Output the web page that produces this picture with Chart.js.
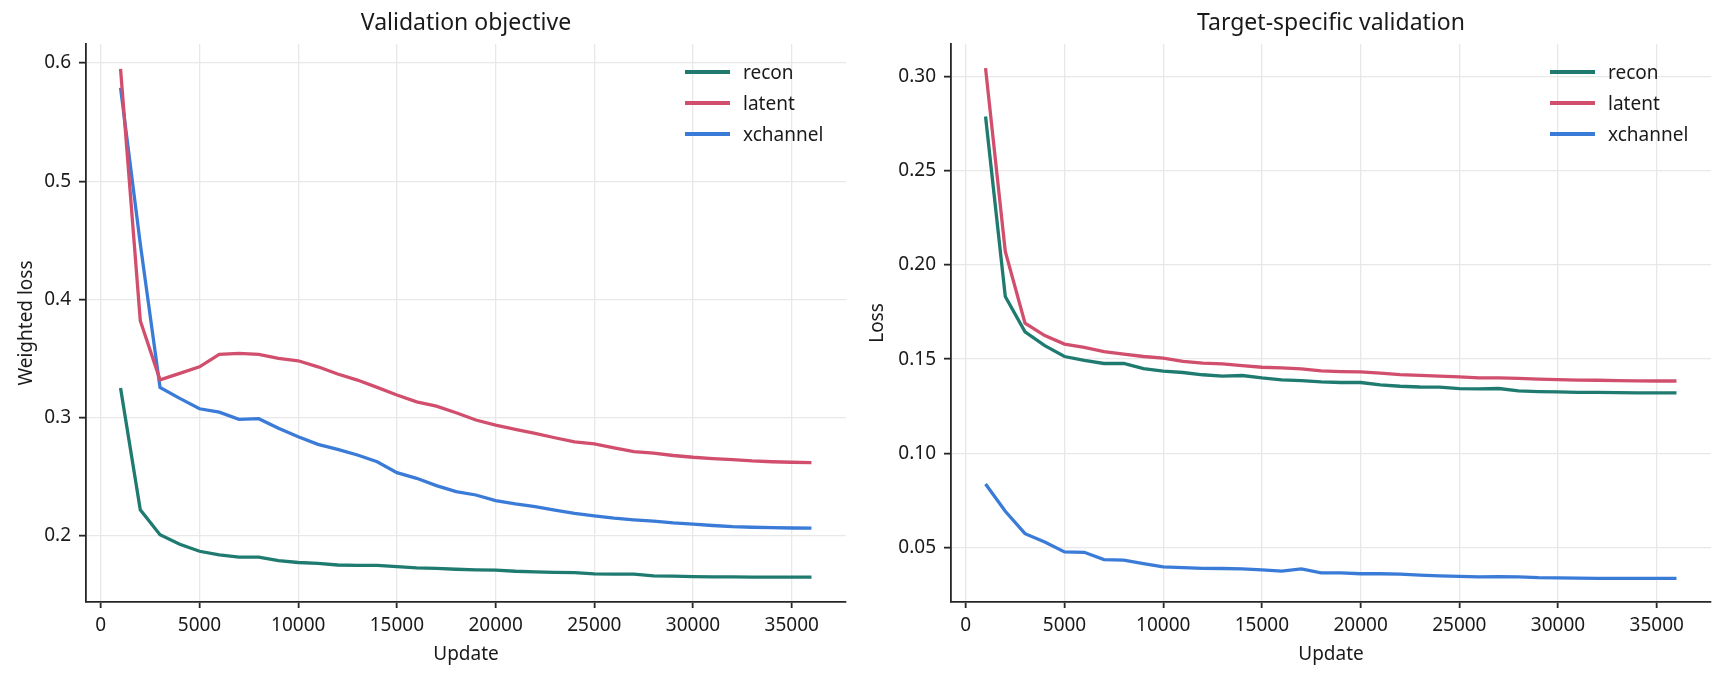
<!DOCTYPE html>
<html>
<head>
<meta charset="utf-8">
<script src="https://cdn.jsdelivr.net/npm/chart.js@4.4.1/dist/chart.umd.min.js"></script>
<style>
  html, body { margin: 0; padding: 0; background: #fff; }
  body { width: 1725px; height: 681px; position: relative; overflow: hidden; font-family: "Noto Sans", sans-serif; }
  .panel { position: absolute; top: 0; height: 681px; }
  .legend { position: absolute; font-size: 19px; color: #1a1a1a; }
  .legend .row { display: flex; align-items: center; height: 31px; }
  .legend .swatch { width: 45px; height: 3.3px; margin-right: 13px; }
</style>
</head>
<body>
<div class="panel" id="p1" style="left:0;width:862px;"><canvas id="objChart"></canvas></div>
<div class="panel" id="p2" style="left:862px;width:863px;"><canvas id="tgtChart"></canvas></div>
<script>
// validation curves, one value every 1000 updates
const updates = [1000, 2000, 3000, 4000, 5000, 6000, 7000, 8000, 9000, 10000, 11000, 12000,
  13000, 14000, 15000, 16000, 17000, 18000, 19000, 20000, 21000, 22000, 23000, 24000,
  25000, 26000, 27000, 28000, 29000, 30000, 31000, 32000, 33000, 34000, 35000, 36000];
const updateTicks = [0, 5000, 10000, 15000, 20000, 25000, 30000, 35000];

const objRecon = [0.325, 0.222, 0.201, 0.193, 0.187, 0.184, 0.182, 0.182, 0.179, 0.1775, 0.1767, 0.1754,
  0.175, 0.1751, 0.174, 0.1729, 0.1725, 0.1718, 0.1713, 0.1711, 0.1701, 0.1696, 0.1692, 0.169,
  0.1679, 0.1676, 0.1676, 0.1662, 0.1659, 0.1655, 0.1654, 0.1653, 0.1652, 0.1652, 0.1651, 0.1651];
const objLatent = [0.595, 0.382, 0.332, 0.3375, 0.343, 0.3535, 0.3543, 0.3535, 0.3502, 0.3481, 0.343, 0.3369,
  0.3318, 0.3256, 0.3191, 0.3134, 0.3098, 0.3041, 0.298, 0.2937, 0.2901, 0.2867, 0.283, 0.2796,
  0.2779, 0.2745, 0.2713, 0.27, 0.268, 0.2665, 0.2654, 0.2645, 0.2634, 0.2627, 0.2623, 0.262];
const objXchannel = [0.579, 0.447, 0.3256, 0.3163, 0.3075, 0.3047, 0.2986, 0.2991, 0.291, 0.2839, 0.2774, 0.2732,
  0.2684, 0.2627, 0.2535, 0.2487, 0.2425, 0.2374, 0.2346, 0.2298, 0.227, 0.2247, 0.2219, 0.2191,
  0.2169, 0.215, 0.2136, 0.2125, 0.211, 0.2099, 0.2088, 0.2078, 0.2073, 0.207, 0.2067, 0.2066];

const tgtRecon = [0.2789, 0.1833, 0.1645, 0.1572, 0.1514, 0.1493, 0.1477, 0.1477, 0.145, 0.1436, 0.1429, 0.1417,
  0.141, 0.1413, 0.14, 0.139, 0.1386, 0.1379, 0.1376, 0.1376, 0.1363, 0.1356, 0.1352, 0.1351,
  0.1343, 0.1342, 0.1344, 0.1331, 0.1328, 0.1326, 0.1324, 0.1323, 0.1322, 0.1321, 0.1321, 0.1321];
const tgtLatent = [0.3046, 0.2072, 0.1691, 0.1625, 0.158, 0.1562, 0.154, 0.1527, 0.1514, 0.1505, 0.1488, 0.1479,
  0.1475, 0.1466, 0.1457, 0.1454, 0.1448, 0.1438, 0.1434, 0.1432, 0.1426, 0.1418, 0.1414, 0.141,
  0.1406, 0.1401, 0.14, 0.1398, 0.1394, 0.1391, 0.1389, 0.1388, 0.1386, 0.1385, 0.1384, 0.1384];
const tgtXchannel = [0.0837, 0.0692, 0.0573, 0.0529, 0.0476, 0.0474, 0.0435, 0.0432, 0.0414, 0.0397, 0.0393, 0.0389,
  0.0388, 0.0386, 0.0381, 0.0374, 0.0386, 0.0365, 0.0365, 0.036, 0.036, 0.0358, 0.0353, 0.0349,
  0.0346, 0.0343, 0.0345, 0.0343, 0.0339, 0.0338, 0.0337, 0.0336, 0.0335, 0.0335, 0.0335, 0.0335];

const seriesNames = ["recon", "latent", "xchannel"];
const seriesColors = ["#1f7a70", "#d14f6d", "#3a7bd8"];

const FONT = "'Noto Sans', sans-serif";
const TEXT = "#1a1a1a";

function toPoints(ys) {
  return updates.map((u, i) => ({ x: u, y: ys[i] }));
}

function makeChart(canvasId, panelId, title, yTitle, series, yMin, yMax, yStep, yDecimals, yWidth, yTitlePad, padRight) {
  const ctx = document.getElementById(canvasId).getContext("2d");
  const chart = new Chart(ctx, {
    type: "line",
    data: {
      datasets: series.map((s, i) => ({
        label: seriesNames[i],
        data: toPoints(s),
        borderColor: seriesColors[i],
        backgroundColor: seriesColors[i],
        borderWidth: 3.3,
        pointRadius: 0,
        tension: 0,
        fill: false,
      })),
    },
    options: {
      responsive: true,
      maintainAspectRatio: false,
      animation: false,
      layout: { padding: { left: 0, right: padRight, top: 0, bottom: 0 } },
      plugins: {
        legend: { display: false },
        tooltip: { enabled: false },
        title: {
          display: true,
          text: title,
          fullSize: false,
          color: TEXT,
          font: { family: FONT, size: 23, weight: "normal" },
          padding: { top: 10, bottom: 6.4 },
        },
      },
      scales: {
        x: {
          type: "linear",
          min: -750,
          max: 37750,
          afterBuildTicks: (scale) => { scale.ticks = updateTicks.map((v) => ({ value: v })); },
          afterFit: (scale) => { scale.height = 79; },
          border: { display: true, color: "#262626", width: 1.8 },
          grid: { color: "#e8e8e8", lineWidth: 1.3, tickColor: "#262626", tickLength: 6, tickWidth: 1.8 },
          ticks: {
            maxRotation: 0,
            autoSkip: false,
            padding: 6,
            color: TEXT,
            font: { family: FONT, size: 19 },
            callback: (v) => String(v),
          },
          title: { display: true, text: "Update", color: TEXT, font: { family: FONT, size: 19 }, padding: { top: 0, bottom: 15 } },
        },
        y: {
          type: "linear",
          min: yMin,
          max: yMax,
          afterFit: (scale) => { scale.width = yWidth; },
          border: { display: true, color: "#262626", width: 1.8 },
          grid: { color: "#e8e8e8", lineWidth: 1.3, tickColor: "#262626", tickLength: 7, tickWidth: 1.8 },
          ticks: {
            stepSize: yStep,
            includeBounds: false,
            padding: 8,
            color: TEXT,
            font: { family: FONT, size: 19 },
            callback: (v) => Number(v).toFixed(yDecimals),
          },
          title: { display: true, text: yTitle, color: TEXT, font: { family: FONT, size: 19 }, padding: { top: yTitlePad, bottom: 0 } },
        },
      },
    },
  });

  // legend in the upper right corner of the plot area
  const area = chart.chartArea;
  const legend = document.createElement("div");
  legend.className = "legend";
  legend.style.left = (area.right - 161) + "px";
  legend.style.top = (area.top + 12.5) + "px";
  chart.data.datasets.forEach((ds) => {
    const row = document.createElement("div");
    row.className = "row";
    const sw = document.createElement("span");
    sw.className = "swatch";
    sw.style.background = ds.borderColor;
    const label = document.createElement("span");
    label.textContent = ds.label;
    row.appendChild(sw);
    row.appendChild(label);
    legend.appendChild(row);
  });
  document.getElementById(panelId).appendChild(legend);
  return chart;
}

makeChart("objChart", "p1", "Validation objective", "Weighted loss",
  [objRecon, objLatent, objXchannel], 0.1441, 0.616, 0.1, 1, 86, 15.5, 16);
makeChart("tgtChart", "p2", "Target-specific validation", "Loss",
  [tgtRecon, tgtLatent, tgtXchannel], 0.021, 0.3174, 0.05, 2, 89, 4.6, 14);
</script>
</body>
</html>
